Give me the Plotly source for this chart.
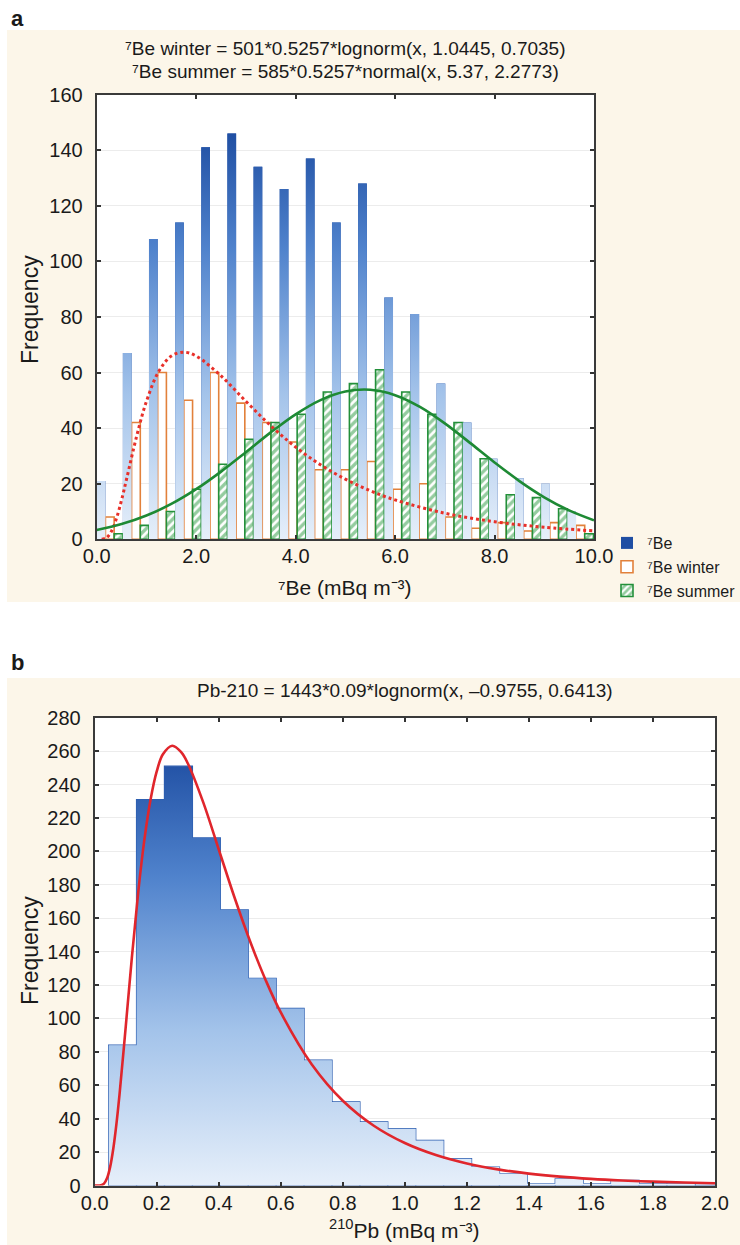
import plotly.graph_objects as go

# ---------------- Panel a : 7Be ----------------
BE_BIN_WIDTH = 0.5257
BE_BIN_CENTERS = [0.263, 0.789, 1.314, 1.840, 2.366, 2.891, 3.417, 3.943, 4.469, 4.994,
                  5.520, 6.046, 6.571, 7.097, 7.623, 8.148, 8.674, 9.200, 9.726]
BE_ALL = [21, 67, 108, 114, 141, 146, 134, 126, 137, 114, 128, 87, 81, 56, 42, 29, 22, 20, 10]
BE_WINTER = [8, 42, 60, 50, 60, 49, 42, 35, 25, 25, 28, 18, 20, 8, 4, 6, 3, 6, 5]
BE_SUMMER = [2, 5, 10, 18, 27, 36, 42, 45, 53, 56, 61, 53, 45, 42, 29, 16, 15, 11, 2]

WINTER_FIT_X = [0.1, 0.2, 0.3, 0.4, 0.5, 0.6, 0.8, 1.0, 1.25, 1.5, 1.75, 2.0, 2.5, 3.0,
                3.5, 4.0, 4.5, 5.0, 5.5, 6.0, 7.0, 8.0, 9.0, 10.0]
WINTER_FIT_Y = [0.02, 0.61, 3.01, 7.68, 14.14, 21.61, 36.83, 49.61, 60.44, 65.92, 67.31,
                65.92, 58.76, 49.64, 40.84, 33.18, 26.81, 21.64, 17.48, 14.16, 9.39, 6.33,
                4.34, 3.02]
SUMMER_FIT_X = [0.0, 0.5, 1.0, 1.5, 2.0, 2.5, 3.0, 3.5, 4.0, 4.5, 5.0, 5.5, 6.0, 6.5,
                7.0, 7.5, 8.0, 8.5, 9.0, 9.5, 10.0]
SUMMER_FIT_Y = [3.34, 5.47, 8.55, 12.71, 18.02, 24.35, 31.34, 38.45, 44.95, 50.08, 53.16,
                53.78, 51.85, 47.63, 41.70, 34.78, 27.65, 20.95, 15.12, 10.40, 6.82]
BE_XTICKS = [0, 2, 4, 6, 8, 10]

# ---------------- Panel b : 210Pb ----------------
PB_BIN_WIDTH = 0.09
PB_BIN_CENTERS = [0.09, 0.18, 0.27, 0.36, 0.45, 0.54, 0.63, 0.72, 0.81, 0.90, 0.99,
                  1.08, 1.17, 1.26, 1.35, 1.44, 1.53, 1.62, 1.71, 1.80, 1.89, 1.98]
PB_COUNTS = [84, 231, 251, 208, 165, 124, 106, 75, 50, 38, 34, 27, 16, 11, 7, 1, 4, 1, 3, 1, 1, 0]
PB_FIT_X = [0.0, 0.02, 0.03, 0.04, 0.05, 0.06, 0.07, 0.08, 0.10, 0.12, 0.14, 0.16, 0.18,
            0.20, 0.22, 0.25, 0.28, 0.30, 0.35, 0.40, 0.45, 0.50, 0.55, 0.60, 0.70, 0.80,
            0.90, 1.0, 1.1, 1.2, 1.3, 1.4, 1.5, 1.6, 1.7, 1.8, 1.9, 2.0]
PB_FIT_Y = [0.0, 0.11, 1.12, 4.45, 11.31, 22.17, 36.76, 54.38, 94.94, 136.83, 175.03,
            206.70, 230.93, 247.84, 258.09, 263.22, 259.10, 252.74, 229.29, 201.12, 172.82,
            146.65, 123.50, 103.56, 72.46, 50.74, 35.76, 25.41, 18.22, 13.19, 9.65, 7.12,
            5.30, 3.98, 3.01, 2.30, 1.77, 1.37]

FONT = "Liberation Sans, Arial, sans-serif"
TXT = "#1a1a1a"
CREAM = "#fcf6e9"
BLUE_SCALE = [[0.0, "#e6effa"], [0.35, "#a3c3ea"], [0.7, "#4f82cc"], [1.0, "#1b4a9f"]]


def bar_outlines(centers, counts, width, f0, f1):
    """Rectangles (closed polygons separated by gaps) used to paint bars with a gradient."""
    xs, ys = [], []
    for c, v in zip(centers, counts):
        a = c - width / 2 + f0 * width
        b = c - width / 2 + f1 * width
        xs += [a, a, b, b, a, None]
        ys += [0, v, v, 0, 0, None]
    return xs, ys


fig = go.Figure()

# ---- panel a traces ----
fig.add_trace(go.Bar(
    x=BE_BIN_CENTERS, y=BE_ALL, width=BE_BIN_WIDTH / 3, offset=-BE_BIN_WIDTH / 2,
    marker=dict(color="#1f4ea3", line=dict(width=0)),
    name="\u2077Be", xaxis="x", yaxis="y"))

fig.add_trace(go.Bar(
    x=BE_BIN_CENTERS, y=BE_WINTER, width=BE_BIN_WIDTH / 3, offset=-BE_BIN_WIDTH / 2 + BE_BIN_WIDTH / 3,
    marker=dict(color="white", line=dict(color="#e2813b", width=1.6)),
    name="\u2077Be winter", xaxis="x", yaxis="y"))

fig.add_trace(go.Bar(
    x=BE_BIN_CENTERS, y=BE_SUMMER, width=BE_BIN_WIDTH / 3, offset=-BE_BIN_WIDTH / 2 + 2 * BE_BIN_WIDTH / 3,
    marker=dict(color="white", line=dict(color="#23903a", width=1.6),
                pattern=dict(shape="/", fgcolor="#2a9940", bgcolor="white", size=6, solidity=0.55)),
    name="\u2077Be summer", xaxis="x", yaxis="y"))

# gradient paint over the blue 7Be bars
bx, by = bar_outlines(BE_BIN_CENTERS, BE_ALL, BE_BIN_WIDTH, 0.0, 1 / 3)
fig.add_trace(go.Scatter(
    x=bx, y=by, mode="lines", fill="toself", line=dict(width=0, color="#1b4a9f"),
    fillgradient=dict(type="vertical", colorscale=BLUE_SCALE, start=0, stop=150),
    showlegend=False, xaxis="x", yaxis="y", hoverinfo="skip"))

fig.add_trace(go.Scatter(
    x=WINTER_FIT_X, y=WINTER_FIT_Y, mode="lines", line=dict(color="#e8302a", width=3, dash="dot", shape="spline"),
    showlegend=False, xaxis="x", yaxis="y"))
fig.add_trace(go.Scatter(
    x=SUMMER_FIT_X, y=SUMMER_FIT_Y, mode="lines", line=dict(color="#1e8a34", width=2.6, shape="spline"),
    showlegend=False, xaxis="x", yaxis="y"))

# ---- panel b traces ----
px_, py_ = bar_outlines(PB_BIN_CENTERS, PB_COUNTS, PB_BIN_WIDTH, 0.0, 1.0)
fig.add_trace(go.Scatter(
    x=px_, y=py_, mode="lines", fill="toself", line=dict(width=0, color="#1b4a9f"),
    fillgradient=dict(type="vertical", colorscale=BLUE_SCALE, start=0, stop=265),
    showlegend=False, xaxis="x2", yaxis="y2", hoverinfo="skip"))
fig.add_trace(go.Bar(
    x=PB_BIN_CENTERS, y=PB_COUNTS, width=PB_BIN_WIDTH,
    marker=dict(color="rgba(0,0,0,0)", line=dict(color="#2a5cb0", width=1.3)),
    showlegend=False, xaxis="x2", yaxis="y2"))
fig.add_trace(go.Scatter(
    x=PB_FIT_X, y=PB_FIT_Y, mode="lines", line=dict(color="#e0262c", width=2.6, shape="spline"),
    showlegend=False, xaxis="x2", yaxis="y2"))

W, H = 740, 1245
XD1 = [96.7 / W, 594 / W]
YD1 = [1 - 539.3 / H, 1 - 94.5 / H]
XD2 = [94.7 / W, 715 / W]
YD2 = [1 - 1185.5 / H, 1 - 717.7 / H]

axis_common = dict(showline=True, linecolor="#3a3a3a", linewidth=2, mirror="ticks",
                   ticks="inside", ticklen=4, tickwidth=2, tickcolor="#333333",
                   zeroline=False, tickfont=dict(family=FONT, size=20, color=TXT),
                   automargin=False)

fig.update_layout(
    width=W, height=H, margin=dict(l=0, r=0, t=0, b=0, autoexpand=False),
    paper_bgcolor="white", plot_bgcolor="white",
    barmode="overlay", font=dict(family=FONT, color=TXT, size=16),
    xaxis=dict(domain=XD1, range=[0, 10], tickvals=BE_XTICKS, tickformat=".1f",
               showgrid=False, anchor="y", ticklabelstandoff=-2, **axis_common),
    yaxis=dict(domain=YD1, range=[0, 160], dtick=20, showgrid=True, gridcolor="#ececec",
               gridwidth=1, anchor="x", ticklabelstandoff=8, **axis_common),
    xaxis2=dict(domain=XD2, range=[0, 2], dtick=0.2, tickformat=".1f",
                showgrid=False, anchor="y2", ticklabelstandoff=-2, **axis_common),
    yaxis2=dict(domain=YD2, range=[0, 280], dtick=20, showgrid=True, gridcolor="#ececec",
                gridwidth=1, anchor="x2", ticklabelstandoff=8, **axis_common),
    legend=dict(x=607 / W, y=1 - 526 / H, xanchor="left", yanchor="top",
                font=dict(family=FONT, size=16, color=TXT), bgcolor="rgba(0,0,0,0)",
                tracegroupgap=0, itemwidth=30),
    shapes=[
        dict(type="rect", xref="paper", yref="paper", x0=7 / W, x1=1, y0=1 - 602 / H, y1=1 - 30 / H,
             fillcolor=CREAM, line=dict(width=0), layer="below"),
        dict(type="rect", xref="paper", yref="paper", x0=7 / W, x1=1, y0=0, y1=1 - 678 / H,
             fillcolor=CREAM, line=dict(width=0), layer="below"),
        dict(type="rect", xref="paper", yref="paper", x0=XD1[0], x1=XD1[1], y0=YD1[0], y1=YD1[1],
             fillcolor="white", line=dict(width=0), layer="below"),
        dict(type="rect", xref="paper", yref="paper", x0=XD2[0], x1=XD2[1], y0=YD2[0], y1=YD2[1],
             fillcolor="white", line=dict(width=0), layer="below"),
    ],
)

ann = []
def label(text, x, y, size, **kw):
    ann.append(dict(text=text, x=x / W, y=1 - y / H, xref="paper", yref="paper",
                    showarrow=False, font=dict(family=FONT, size=size, color=TXT), **kw))

label("<b>a</b>", 9, 18, 22, xanchor="left", yanchor="middle")
label("<b>b</b>", 9, 662, 22, xanchor="left", yanchor="middle")
label("\u2077Be winter = 501*0.5257*lognorm(x, 1.0445, 0.7035)", 345, 49, 19, xanchor="center", yanchor="middle")
label("\u2077Be summer = 585*0.5257*normal(x, 5.37, 2.2773)", 345, 71, 19, xanchor="center", yanchor="middle")
label("Pb-210 = 1443*0.09*lognorm(x, \u20130.9755, 0.6413)", 405, 690, 19, xanchor="center", yanchor="middle")
label("Frequency", 30, 310, 23, textangle=-90, xanchor="center", yanchor="middle")
label("Frequency", 30, 951, 23, textangle=-90, xanchor="center", yanchor="middle")
label("\u2077Be (mBq m\u207b\u00b3)", 345, 588, 21, xanchor="center", yanchor="middle")
label("<sup>210</sup>Pb (mBq m\u207b\u00b3)", 405, 1229, 21, xanchor="center", yanchor="middle")
fig.update_layout(annotations=ann)

fig.write_html("out.html", config={"displayModeBar": False},
               post_script="document.body.style.margin='0';")
